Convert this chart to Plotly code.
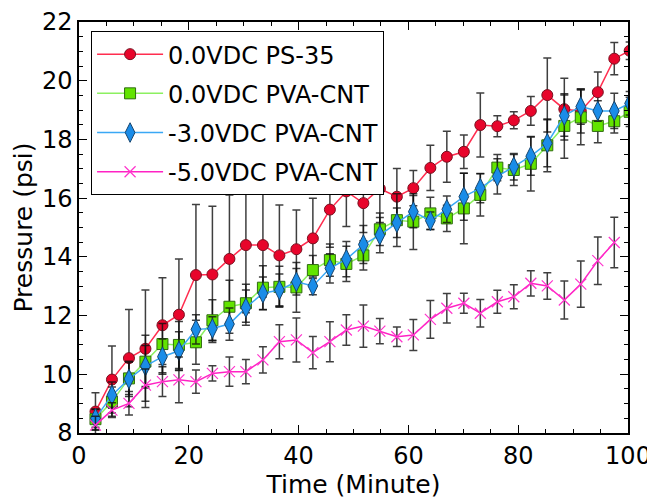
import plotly.graph_objects as go

time_min = [3.0, 6.0, 9.1, 12.1, 15.2, 18.2, 21.3, 24.3, 27.4, 30.4, 33.5, 36.5, 39.6, 42.6,
            45.7, 48.7, 51.8, 54.8, 57.9, 60.9, 64.0, 67.0, 70.1, 73.1, 76.2, 79.2, 82.3,
            85.3, 88.4, 91.4, 94.5, 97.5, 100.3]

ps35_0v = [8.73, 9.82, 10.55, 10.87, 11.67, 12.03, 13.38, 13.40, 13.93, 14.40, 14.40, 14.05,
           14.26, 14.63, 15.61, 16.23, 15.83, 16.32, 16.05, 16.34, 17.03, 17.41, 17.58, 18.49,
           18.45, 18.65, 18.97, 19.51, 19.03, 18.97, 19.61, 20.75, 21.02]
ps35_0v_err = [0.64, 1.14, 1.66, 2.0, 1.62, 1.9, 2.4, 2.32, 2.18, 2.3, 1.77, 1.72, 1.34, 1.37,
               1.28, 1.2, 1.0, 1.15, 0.96, 0.6, 0.77, 0.87, 0.57, 1.09, 0.36, 0.29, 0.49, 1.26,
               1.05, 0.75, 0.69, 0.55, 0.3]

cnt_0v = [8.47, 9.07, 9.86, 10.43, 11.03, 11.00, 11.09, 11.84, 12.30, 12.42, 12.95, 12.98,
          12.96, 13.55, 13.89, 13.76, 14.05, 14.94, 15.25, 15.20, 15.48, 15.31, 15.65, 16.11,
          17.04, 16.96, 17.17, 17.80, 18.46, 18.75, 18.46, 18.62, 18.94]
cnt_0v_err = [0.35, 0.5, 0.55, 0.9, 0.7, 0.8, 0.75, 0.7, 0.9, 0.65, 0.75, 0.7, 0.85, 0.5, 0.55,
              0.6, 0.5, 0.55, 0.9, 0.95, 0.55, 0.45, 1.2, 0.72, 0.45, 0.53, 0.93, 0.9, 1.1,
              0.93, 0.57, 0.4, 0.5]

cnt_m3v = [8.50, 9.29, 9.84, 10.28, 10.60, 10.80, 11.53, 11.56, 11.71, 12.27, 12.76, 12.87,
           13.15, 13.01, 13.61, 13.92, 14.42, 14.74, 15.16, 15.54, 15.23, 15.62, 16.05, 16.34,
           16.74, 17.07, 17.43, 17.87, 18.81, 19.12, 18.97, 18.97, 19.23]
cnt_m3v_err = [0.3, 0.45, 0.6, 0.7, 0.6, 0.65, 0.5, 0.4, 0.55, 0.6, 0.55, 0.55, 0.45, 0.3, 0.5,
               0.6, 0.65, 0.6, 0.5, 0.55, 0.3, 0.45, 0.8, 0.5, 0.6, 0.45, 0.65, 0.8, 0.7, 0.6,
               0.35, 0.6, 0.4]

cnt_m5v = [8.27, 8.78, 9.01, 9.63, 9.75, 9.81, 9.75, 10.03, 10.09, 10.09, 10.49, 11.11, 11.17,
           10.74, 11.11, 11.51, 11.64, 11.47, 11.28, 11.34, 11.87, 12.25, 12.42, 12.08, 12.47,
           12.64, 13.10, 13.01, 12.53, 13.07, 13.87, 14.49]
cnt_m5v_err = [0.3, 0.25, 0.4, 0.55, 0.51, 0.78, 0.4, 0.26, 0.5, 0.41, 0.45, 0.58, 0.75, 0.55,
               0.68, 0.52, 0.72, 0.43, 0.33, 0.53, 0.64, 0.5, 0.34, 0.47, 0.39, 0.41, 0.43,
               0.45, 0.65, 0.79, 0.81, 0.86]

series = [
    ("0.0VDC PS-35", ps35_0v, ps35_0v_err, "circle", "#e8052b", "#ff2d4f", 11, "#7a1020"),
    ("0.0VDC PVA-CNT", cnt_0v, cnt_0v_err, "square", "#62e400", "#8cf060", 11, "#2f6a10"),
    ("-3.0VDC PVA-CNT", cnt_m3v, cnt_m3v_err, "diamond-tall", "#1a8ce8", "#3aa8f5", 14, "#17456e"),
    ("-5.0VDC PVA-CNT", cnt_m5v, cnt_m5v_err, "x-thin", "#ff33cc", "#ff22c4", 11, "#ff33cc"),
]

fig = go.Figure()
for i, (name, ys, errs, sym, fill, lcol, msize, edge) in enumerate(series):
    n = len(ys)
    marker = dict(symbol=sym, size=msize, color=fill, line=dict(color=edge, width=1))
    if sym == "x-thin":
        marker = dict(symbol=sym, size=msize, color=fill, line=dict(color=fill, width=1.2))
    fig.add_trace(go.Scatter(
        x=time_min[:n], y=ys, name=name, mode="lines+markers",
        legendgroup=f"g{i}",
        line=dict(color=lcol, width=1.5),
        marker=marker,
        error_y=dict(type="data", array=errs, visible=True,
                     color="rgba(15,15,15,0.8)", thickness=1.5, width=4),
    ))

axis_common = dict(
    showline=True, linecolor="black", linewidth=1.5, mirror="allticks",
    ticks="inside", ticklen=8, tickwidth=1, tickcolor="black",
    showgrid=False, zeroline=False, automargin=False,
    tickfont=dict(size=24, color="black", family="DejaVu Sans"),
)

# page body has an 8px default margin, so the figure is sized to fit the 655x499 window
fig.update_layout(
    width=647, height=491,
    margin=dict(l=71, r=27, t=14, b=66),
    paper_bgcolor="white", plot_bgcolor="white",
    font=dict(family="DejaVu Sans", color="black"),
    showlegend=True,
    legend=dict(
        x=0.022, y=0.978, xanchor="left", yanchor="top",
        bgcolor="white", bordercolor="black", borderwidth=1,
        font=dict(size=24, family="DejaVu Sans", color="black"),
        itemwidth=66, traceorder="grouped", tracegroupgap=5,
    ),
    xaxis=dict(
        range=[0, 100], tick0=0, dtick=20,
        minor=dict(dtick=5, ticks="inside", ticklen=4, tickcolor="black", showgrid=False),
        title=dict(text="Time (Minute)", font=dict(size=25), standoff=0),
        **axis_common,
    ),
    yaxis=dict(
        range=[8, 22], tick0=8, dtick=2,
        minor=dict(dtick=0.5, ticks="inside", ticklen=4, tickcolor="black", showgrid=False),
        title=dict(text="Pressure (psi)", font=dict(size=25), standoff=2),
        **axis_common,
    ),
)

fig.write_html("out.html")
